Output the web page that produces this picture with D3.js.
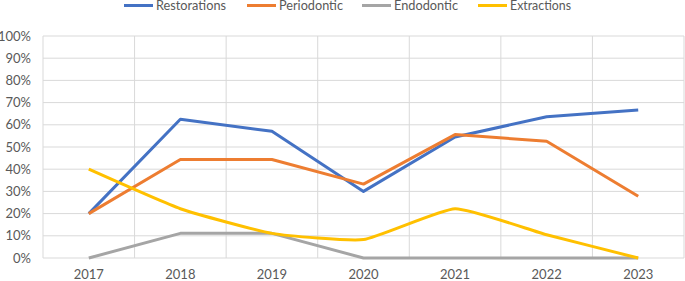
<!DOCTYPE html>
<html>
<head>
<meta charset="utf-8">
<script src="https://cdn.jsdelivr.net/npm/d3@7"></script>
<style>
  body { margin: 0; background: #fff; }
  svg { display: block; font-family: Lato, "Liberation Sans", sans-serif; }
</style>
</head>
<body>
<svg width="685" height="281"></svg>
<script>
var years = ["2017", "2018", "2019", "2020", "2021", "2022", "2023"]
var seriesNames = ["Restorations", "Periodontic", "Endodontic", "Extractions"]
var colors = ["#4472C4", "#ED7D31", "#A5A5A5", "#FFC000"]
var restorations = [0.20, 0.625, 0.571, 0.30, 0.545, 0.636, 0.667]
var periodontic = [0.20, 0.444, 0.444, 0.333, 0.556, 0.526, 0.278]
var endodontic = [0, 0.111, 0.111, 0, 0, 0, 0]
var extractions = [0.40, 0.222, 0.111, 0.083, 0.222, 0.105, 0]
var yTicks = [0, 0.1, 0.2, 0.3, 0.4, 0.5, 0.6, 0.7, 0.8, 0.9, 1]

var series = [restorations, periodontic, endodontic, extractions]

var svg = d3.select("svg")
var plotLeft = 43, plotRight = 684, plotTop = 36, plotBottom = 258

var x = d3.scaleBand().domain(years).range([plotLeft, plotRight])
var y = d3.scaleLinear().domain([0, 1]).range([plotBottom, plotTop])

// horizontal grid
svg.append("g")
    .selectAll("line")
    .data(yTicks)
    .enter().append("line")
    .attr("x1", plotLeft).attr("x2", plotRight)
    .attr("y1", function (d) { return y(d) })
    .attr("y2", function (d) { return y(d) })
    .attr("stroke", "#D9D9D9")
    .attr("stroke-width", 1)

// vertical grid (category boundaries)
var bounds = years.map(function (d) { return x(d) }).concat([plotRight])
svg.append("g")
    .selectAll("line")
    .data(bounds)
    .enter().append("line")
    .attr("x1", function (d) { return d }).attr("x2", function (d) { return d })
    .attr("y1", plotTop).attr("y2", plotBottom)
    .attr("stroke", "#D9D9D9")
    .attr("stroke-width", 1)

// y labels
svg.append("g")
    .selectAll("text")
    .data(yTicks)
    .enter().append("text")
    .attr("x", 31)
    .attr("y", function (d) { return y(d) + 4.5 })
    .attr("text-anchor", "end")
    .attr("font-size", 13)
    .attr("fill", "#595959")
    .text(function (d) { return Math.round(d * 100) + "%" })

// x labels
svg.append("g")
    .selectAll("text")
    .data(years)
    .enter().append("text")
    .attr("x", function (d) { return x(d) + x.bandwidth() / 2 })
    .attr("y", 279)
    .attr("text-anchor", "middle")
    .attr("font-size", 13)
    .attr("fill", "#595959")
    .text(function (d) { return d })

// lines (extractions drawn smoothed, like the source)
var line = d3.line()
    .x(function (d, i) { return x(years[i]) + x.bandwidth() / 2 })
    .y(function (d) { return y(d) })

svg.append("g")
    .selectAll("path")
    .data(series)
    .enter().append("path")
    .attr("d", function (d, i) {
        return i == 3 ? line.curve(d3.curveCardinal.tension(0.55))(d) : line.curve(d3.curveLinear)(d)
    })
    .attr("fill", "none")
    .attr("stroke", function (d, i) { return colors[i] })
    .attr("stroke-width", 3)
    .attr("stroke-linejoin", "round")

// legend
var legendX = [124, 247, 362, 478]
var legendW = [70, 64, 64, 61]
var legend = svg.append("g")
    .selectAll("g")
    .data(seriesNames)
    .enter().append("g")
    .attr("transform", function (d, i) { return "translate(" + legendX[i] + ",5.5)" })

legend.append("line")
    .attr("x1", 0).attr("x2", 29)
    .attr("stroke", function (d, i) { return colors[i] })
    .attr("stroke-width", 3)

legend.append("text")
    .attr("x", 32)
    .attr("y", 4.5)
    .attr("font-size", 12.5)
    .attr("fill", "#595959")
    .attr("textLength", function (d, i) { return legendW[i] })
    .attr("lengthAdjust", "spacingAndGlyphs")
    .text(function (d) { return d })
</script>
</body>
</html>
